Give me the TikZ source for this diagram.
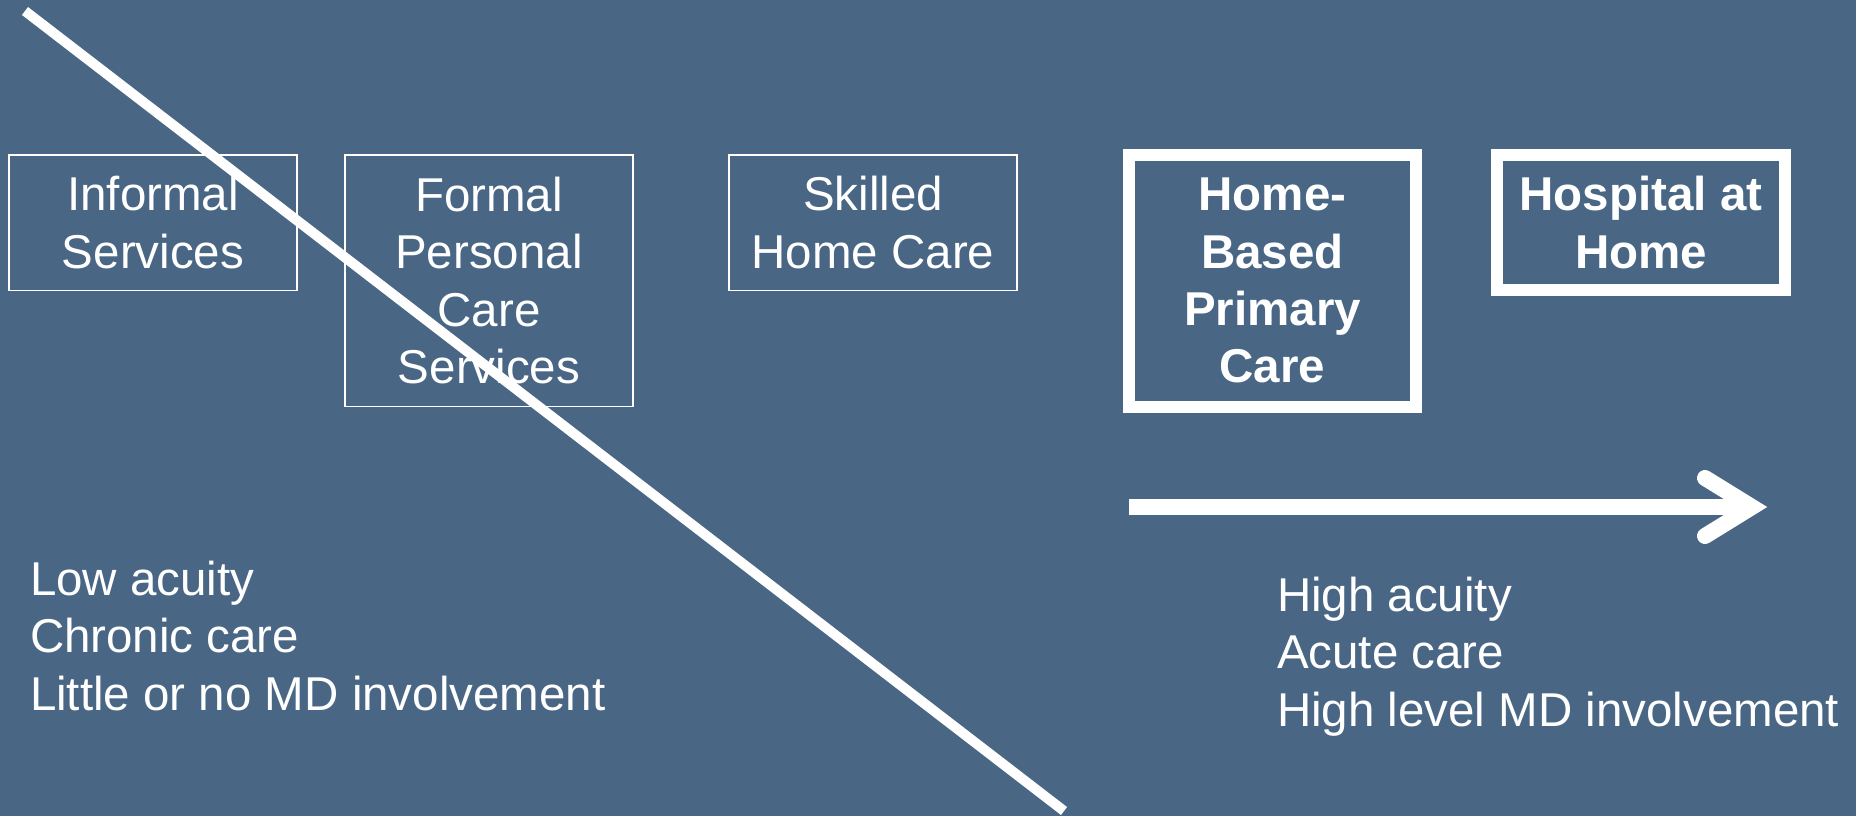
\documentclass[tikz,border=0pt]{standalone}
\usepackage{fontspec}
\setmainfont{Liberation Sans}
\definecolor{slate}{RGB}{73,103,133}
\begin{document}
\begin{tikzpicture}[x=1pt,y=-1pt,
  every node/.style={text=white, inner sep=0pt, outer sep=0pt},
  bigfont/.style={font=\fontsize{47.5pt}{57.3pt}\selectfont},
  thinbox/.style={draw=white, line width=1.5pt, rectangle, align=center, bigfont},
  thickbox/.style={draw=white, line width=12pt, rectangle, align=center,
    font=\fontsize{47.5pt}{57.3pt}\selectfont\bfseries},
  note/.style={align=left, anchor=north west, bigfont},
  slash/.style={draw=white, line width=10pt},
  shaft/.style={draw=white, line width=16pt},
  barb/.style={draw=white, line width=16pt, line cap=round, line join=miter}]
  % background
  \fill[slate] (0,0) rectangle (1856,816);
  \useasboundingbox (0,0) rectangle (1856,816);

  % service boxes
  \node[thinbox, minimum width=288pt, minimum height=135.5pt] (informal) at (153,222.5) {Informal\\Services};
  \node[thinbox, minimum width=288pt, minimum height=251.5pt] (formal) at (489,280.5) {Formal\\Personal\\Care\\Services};
  \node[thinbox, minimum width=288pt, minimum height=135.5pt] (skilled) at (873,222.5) {Skilled\\Home Care};
  \node[thickbox, minimum width=287pt, minimum height=251.5pt] (hbpc) at (1272.5,280.75) {Home-\\Based\\Primary\\Care};
  \node[thickbox, minimum width=288pt, minimum height=135pt] (hah) at (1641,222.5) {Hospital at\\Home};

  % acuity notes
  \node[note] (low) at (30,561) {Low acuity\\Chronic care\\Little or no MD involvement};
  \node[note] (high) at (1277,577) {High acuity\\Acute care\\High level MD involvement};

  % diagonal divider
  \coordinate (slashA) at (25,11);
  \coordinate (slashB) at (1064,811);
  \draw[slash] (slashA) -- (slashB);

  % acuity arrow
  \coordinate (arrowA) at (1129,507);
  \coordinate (arrowB) at (1746,507);
  \coordinate (tip) at (1752,507);
  \coordinate (barbU) at (1705,478);
  \coordinate (barbL) at (1705,536);
  \draw[shaft] (arrowA) -- (arrowB);
  \draw[barb] (barbU) -- (tip) -- (barbL);
\end{tikzpicture}
\end{document}
